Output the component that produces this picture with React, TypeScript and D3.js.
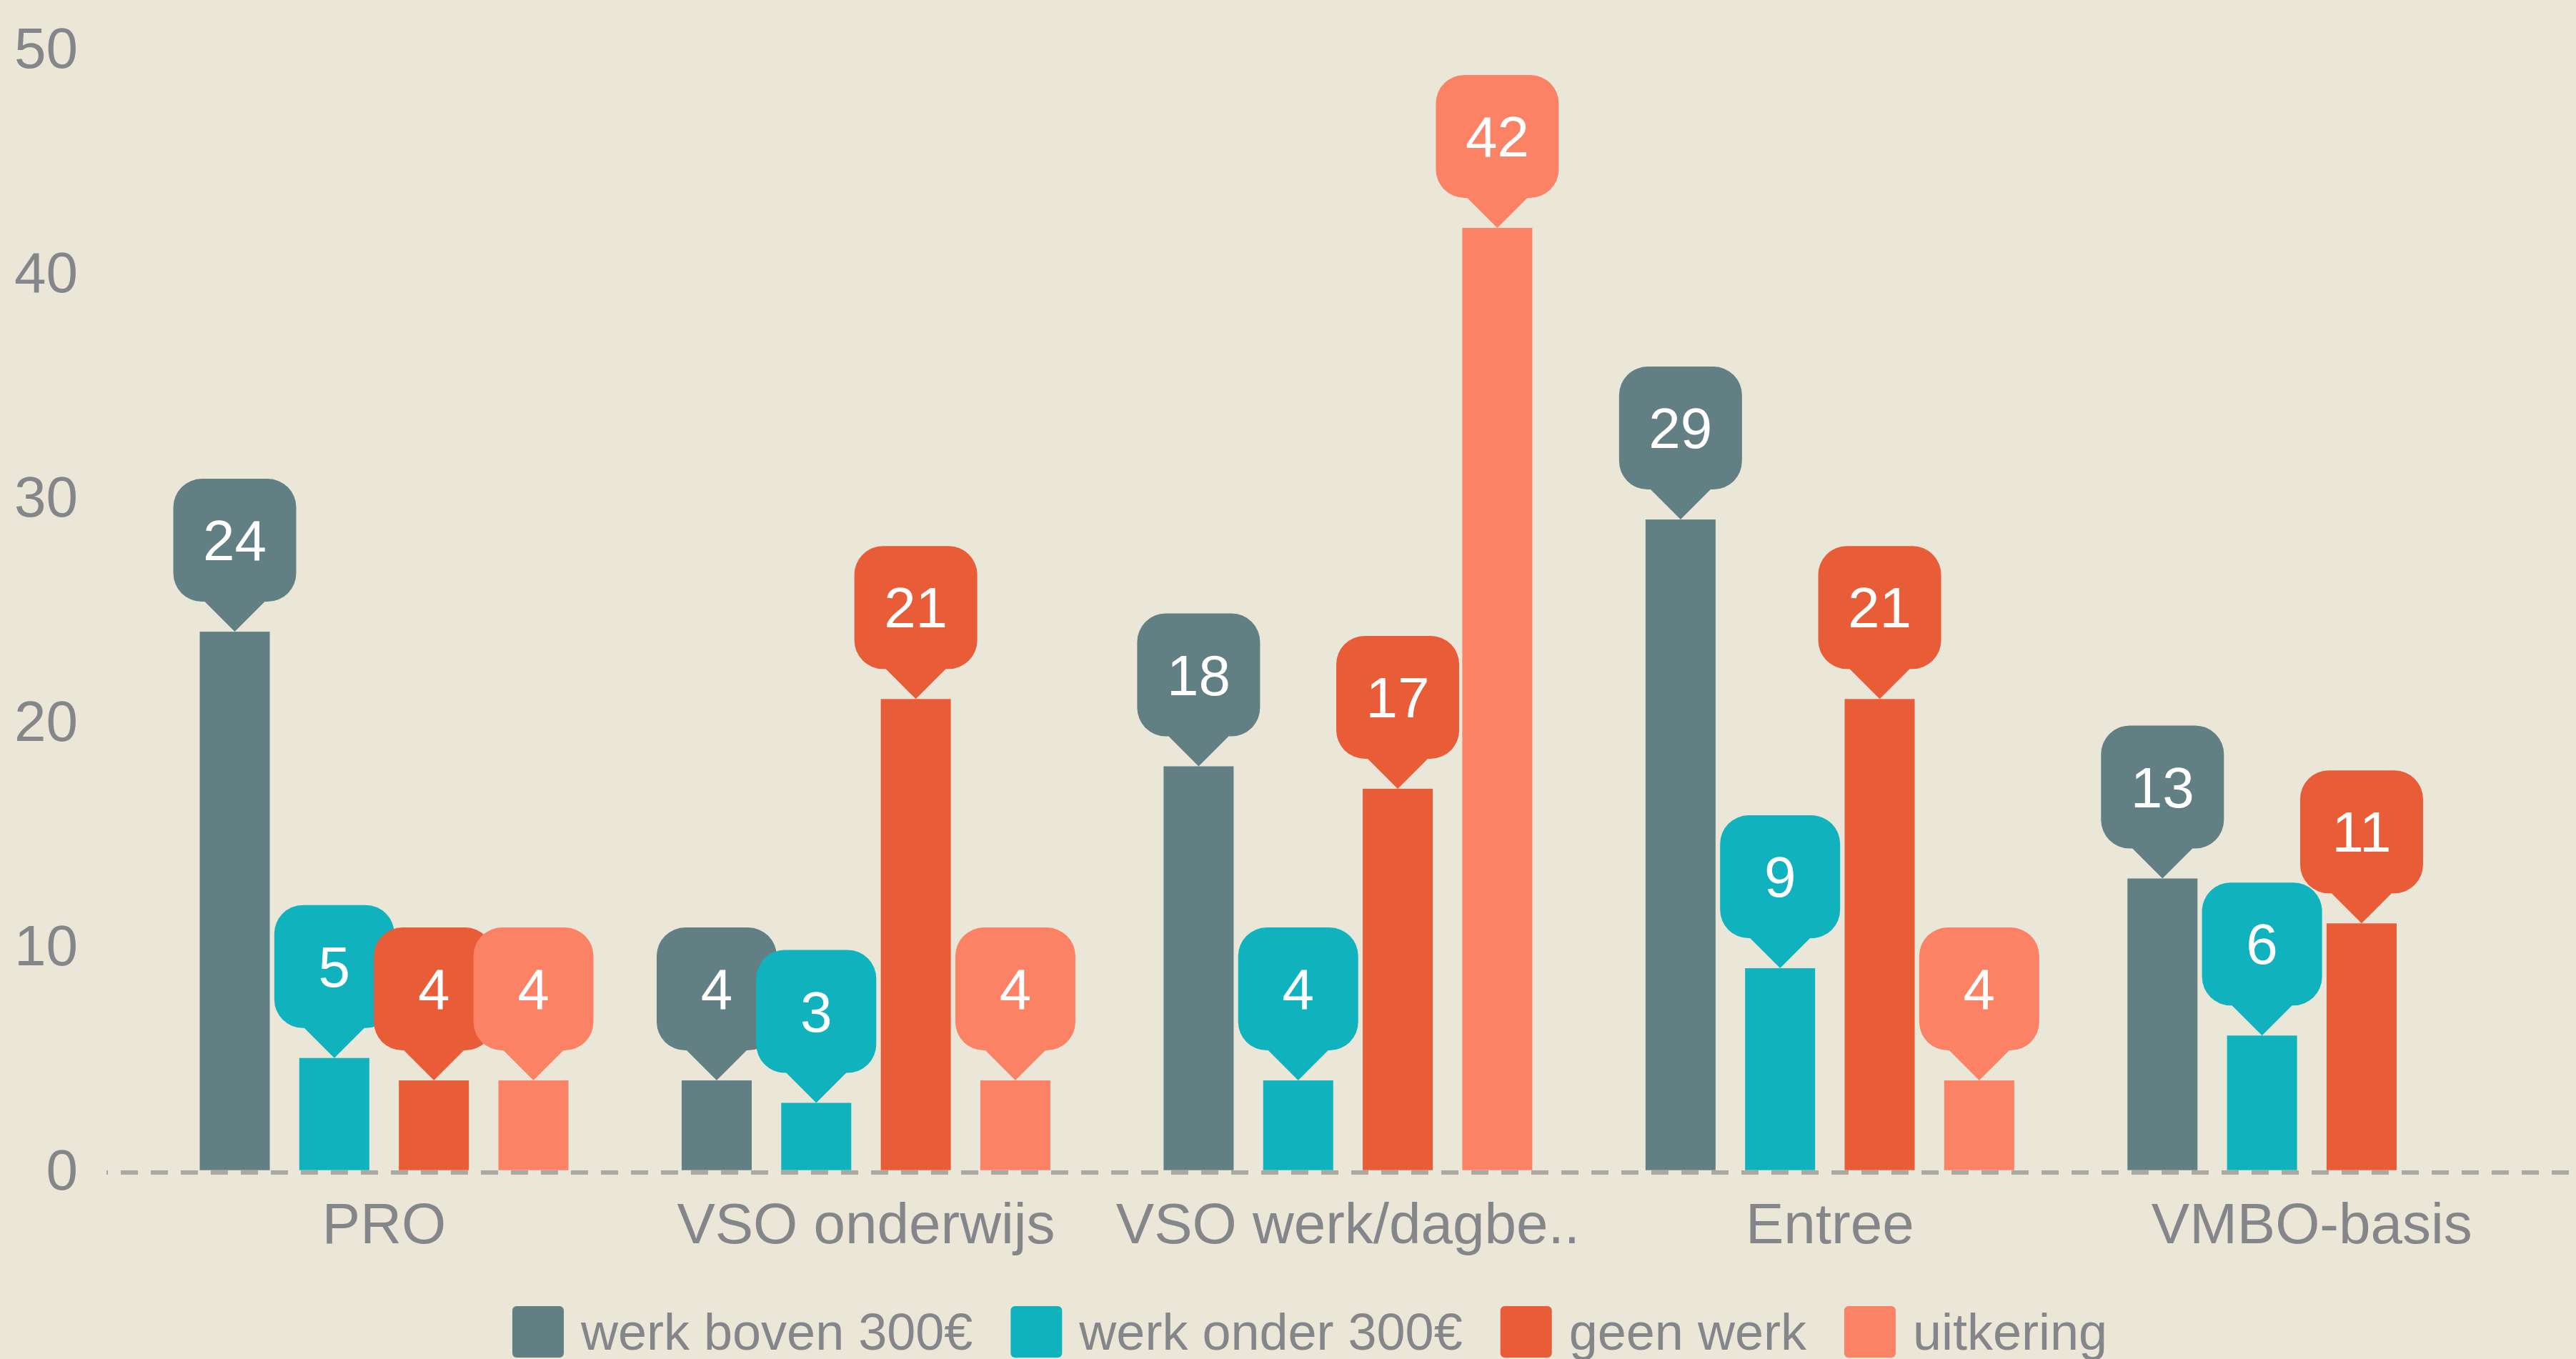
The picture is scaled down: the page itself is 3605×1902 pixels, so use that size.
import React, { useMemo } from "react";
import * as d3 from "d3";

const categories = ["PRO", "VSO onderwijs", "VSO werk/dagbe..", "Entree", "VMBO-basis"];
const seriesNames = ["werk boven 300€", "werk onder 300€", "geen werk", "uitkering"];
const seriesColors = ["#627f84", "#10b3bd", "#e95c38", "#fb8265"];
const werkBoven = [24, 4, 18, 29, 13];
const werkOnder = [5, 3, 4, 9, 6];
const geenWerk = [4, 21, 17, 21, 11];
const uitkering: (number | null)[] = [4, 4, 42, 4, null];
const yTicks = [0, 10, 20, 30, 40, 50];

const W = 3605;
const H = 1902;
const FONT = "'Liberation Sans', Arial, Helvetica, sans-serif";
const BG = "#eae7d9";
const TEXT = "#858689";

function bubblePath(cx: number, tipY: number, w: number) {
  const h = 172, r = 40, ph = 42, pw = 42;
  const bottom = tipY - ph;
  const top = bottom - h;
  const left = cx - w / 2;
  const right = cx + w / 2;
  const p = d3.path();
  p.moveTo(left + r, top);
  p.lineTo(right - r, top);
  p.arcTo(right, top, right, top + r, r);
  p.lineTo(right, bottom - r);
  p.arcTo(right, bottom, right - r, bottom, r);
  p.lineTo(cx + pw, bottom);
  p.lineTo(cx, tipY);
  p.lineTo(cx - pw, bottom);
  p.lineTo(left + r, bottom);
  p.arcTo(left, bottom, left, bottom - r, r);
  p.lineTo(left, top + r);
  p.arcTo(left, top, left + r, top, r);
  p.closePath();
  return p.toString();
}

function measure(text: string, size: number) {
  try {
    const c = document.createElement("canvas");
    const ctx = c.getContext("2d");
    if (ctx) {
      ctx.font = `${size}px 'Liberation Sans', Arial, sans-serif`;
      return ctx.measureText(text).width;
    }
  } catch (e) {}
  return text.length * size * 0.5;
}

export default function App() {
  const seriesValues = [werkBoven, werkOnder, geenWerk, uitkering];

  const x0 = d3.scaleBand<string>().domain(categories).range([200.3, 3572.5]).padding(0);
  const groupW = 516;
  const x1 = d3
    .scaleBand<string>()
    .domain(seriesNames)
    .range([0, groupW])
    .paddingInner(0.2965)
    .paddingOuter(0);
  const y = d3.scaleLinear().domain([0, 50]).range([1637.7, 67.7]);

  const groupOffset = (x0.bandwidth() - groupW) / 2;

  const bars: { key: string; x: number; y: number; w: number; h: number; color: string; v: number }[] = [];
  categories.forEach((cat, ci) => {
    seriesNames.forEach((s, si) => {
      const v = seriesValues[si][ci];
      if (v == null) return;
      const bx = (x0(cat) as number) + groupOffset + (x1(s) as number);
      bars.push({
        key: `${cat}-${s}`,
        x: bx,
        y: y(v),
        w: x1.bandwidth(),
        h: y(0) - y(v),
        color: seriesColors[si],
        v,
      });
    });
  });

  const legend = useMemo(() => {
    let cx = 717;
    return seriesNames.map((name, i) => {
      const tw = measure(name, 72);
      const item = { name, color: seriesColors[i], sx: cx, tx: cx + 96 };
      cx = cx + 96 + tw + 53;
      return item;
    });
  }, []);

  return (
    <svg
      width={W}
      height={H}
      style={{ position: "absolute", left: 0, top: 0, display: "block" }}
      fontFamily={FONT}
    >
      <rect x={0} y={0} width={W} height={H} fill={BG} />

      {yTicks.map((t) => (
        <text
          key={t}
          x={109}
          y={y(t)}
          textAnchor="end"
          dominantBaseline="central"
          fontSize={80}
          fill={TEXT}
        >
          {t}
        </text>
      ))}

      {bars.map((b) => (
        <rect key={b.key} x={b.x} y={b.y} width={b.w} height={b.h} fill={b.color} />
      ))}

      <line
        x1={149}
        x2={W}
        y1={1641}
        y2={1641}
        stroke="#aaa9a1"
        strokeWidth={6}
        strokeDasharray="24 18"
        strokeDashoffset={22}
      />

      {bars.map((b) => {
        const label = String(b.v);
        const w = Math.max(168, label.length * 44.5 + 83);
        const cx = b.x + b.w / 2;
        return (
          <g key={`bub-${b.key}`}>
            <path d={bubblePath(cx, b.y, w)} fill={b.color} />
            <text
              x={cx}
              y={b.y - 100}
              textAnchor="middle"
              fontSize={80}
              fill="#ffffff"
            >
              {label}
            </text>
          </g>
        );
      })}

      {categories.map((cat) => (
        <text
          key={cat}
          x={(x0(cat) as number) + x0.bandwidth() / 2}
          y={1740}
          textAnchor="middle"
          fontSize={80}
          fill={TEXT}
        >
          {cat}
        </text>
      ))}

      {legend.map((l) => (
        <g key={l.name}>
          <rect x={l.sx} y={1828} width={72} height={72} rx={6} ry={6} fill={l.color} />
          <text x={l.tx} y={1889} fontSize={72} fill={TEXT}>
            {l.name}
          </text>
        </g>
      ))}
    </svg>
  );
}
